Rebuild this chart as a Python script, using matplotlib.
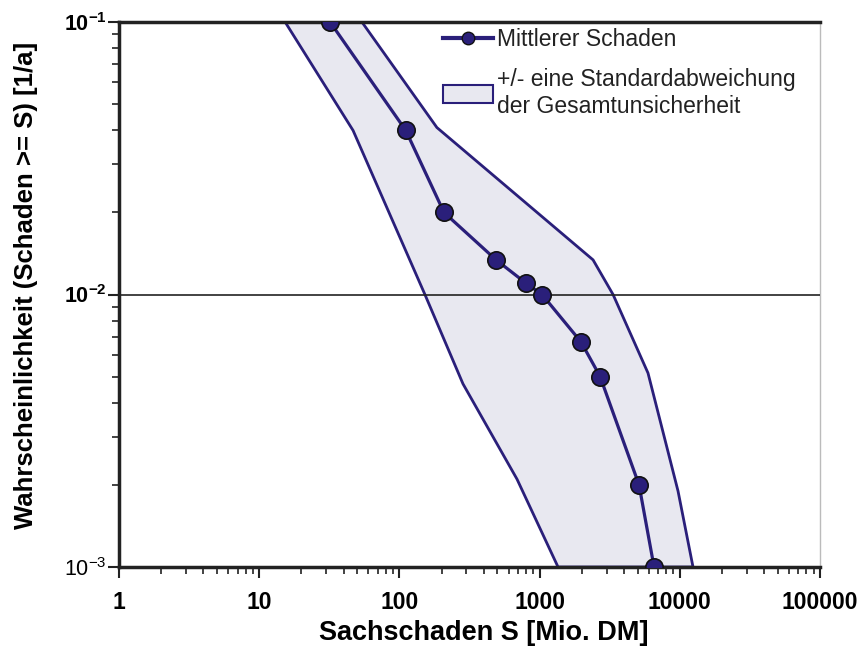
import numpy as np
import matplotlib
matplotlib.use('Agg')
import matplotlib.pyplot as plt
from matplotlib.patches import Patch
from matplotlib.lines import Line2D

matplotlib.rcParams['font.family'] = 'sans-serif'
matplotlib.rcParams['font.sans-serif'] = ['Liberation Sans']
matplotlib.rcParams['mathtext.fontset'] = 'custom'
matplotlib.rcParams['mathtext.rm'] = 'Liberation Sans'
matplotlib.rcParams['mathtext.bf'] = 'Liberation Sans:bold'

# Data: mean damage curve
schaden = [32, 111, 208, 489, 800, 1040, 1973, 2700, 5120, 6550]
wahrsch = [0.1, 0.04, 0.02, 0.0134, 0.011, 0.01, 0.0067, 0.005, 0.002, 0.001]

# +/- one standard deviation band
lower_x = [15.3, 46.7, 152, 284, 690, 1353]
lower_y = [0.1, 0.04, 0.01, 0.0047, 0.0021, 0.001]
upper_x = [54, 185, 2405, 3340, 5930, 9710, 12420]
upper_y = [0.1, 0.041, 0.0134, 0.01, 0.00515, 0.0019, 0.001]

xticks = [1, 10, 100, 1000, 10000, 100000]
xtick_labels = ['1', '10', '100', '1000', '10000', '100000']
yticks = [0.001, 0.01, 0.1]
ytick_labels = [r'$\mathrm{10^{-3}}$', r'$\mathbf{10^{-2}}$', r'$\mathbf{10^{-1}}$']

navy = '#2a1f7a'
band_col = '#e8e8f0'

fig = plt.figure(figsize=(8.67, 6.53), dpi=100)
ax = fig.add_axes([0.1373, 0.1317, 0.8085, 0.8346])

band_x = lower_x + upper_x[::-1]
band_y = lower_y + upper_y[::-1]
ax.fill(band_x, band_y, facecolor=band_col, edgecolor=navy, linewidth=2, zorder=2)

ax.plot(schaden, wahrsch, color=navy, linewidth=2.3, marker='o', markersize=12.5,
        markerfacecolor=navy, markeredgecolor='#111111', markeredgewidth=1.2, zorder=4)

ax.set_xscale('log')
ax.set_yscale('log')
ax.set_xlim(1, 100000)
ax.set_ylim(0.001, 0.1)

# horizontal gridline at 10^-2 and dark top line
ax.axhline(0.01, color='#222222', linewidth=1.2, zorder=3)
ax.axhline(0.1, color='#222222', linewidth=2.5, zorder=3, clip_on=False)

ax.set_xticks(xticks)
ax.set_xticklabels(xtick_labels, fontsize=16.5, fontweight='bold')
ax.set_yticks(yticks)
ax.set_yticklabels(ytick_labels, fontsize=15.5)

ax.tick_params(which='major', direction='out', length=8, width=1.5, color='#222222')
ax.tick_params(axis='x', which='major', pad=9)
ax.tick_params(axis='y', which='major', pad=1)
ax.tick_params(which='minor', direction='out', length=5, width=1.2, color='#222222')
ax.tick_params(axis='y', which='minor', labelleft=False)

for side in ['left', 'bottom']:
    ax.spines[side].set_linewidth(2.5)
    ax.spines[side].set_color('#222222')
ax.spines['top'].set_visible(False)
ax.spines['right'].set_color('#bbbbbb')
ax.spines['right'].set_linewidth(1)

ax.set_xlabel('Sachschaden S [Mio. DM]', fontsize=19.5, fontweight='bold')
ax.set_ylabel('Wahrscheinlichkeit (Schaden >= S) [1/a]', fontsize=18.5, fontweight='bold')
ax.xaxis.set_label_coords(0.521, -0.098)
ax.yaxis.set_label_coords(-0.115, 0.517)

handles = [
    Line2D([0], [0], color=navy, linewidth=3, marker='o', markersize=9,
           markerfacecolor=navy, markeredgecolor='#111111'),
    Patch(facecolor=band_col, edgecolor=navy, linewidth=1.5),
]
leg = ax.legend(handles, ['Mittlerer Schaden', '+/- eine Standardabweichung\nder Gesamtunsicherheit'],
                loc='upper left', bbox_to_anchor=(443 / 867, 1 - 28 / 653),
                bbox_transform=fig.transFigure, frameon=False, fontsize=16.5,
                handlelength=2.2, handleheight=0.8, borderpad=0, borderaxespad=0,
                labelspacing=0.75, handletextpad=0.15)
for t in leg.get_texts():
    t.set_linespacing(1.2)
    t.set_color('#222222')

fig.savefig('out.png', dpi=100)
